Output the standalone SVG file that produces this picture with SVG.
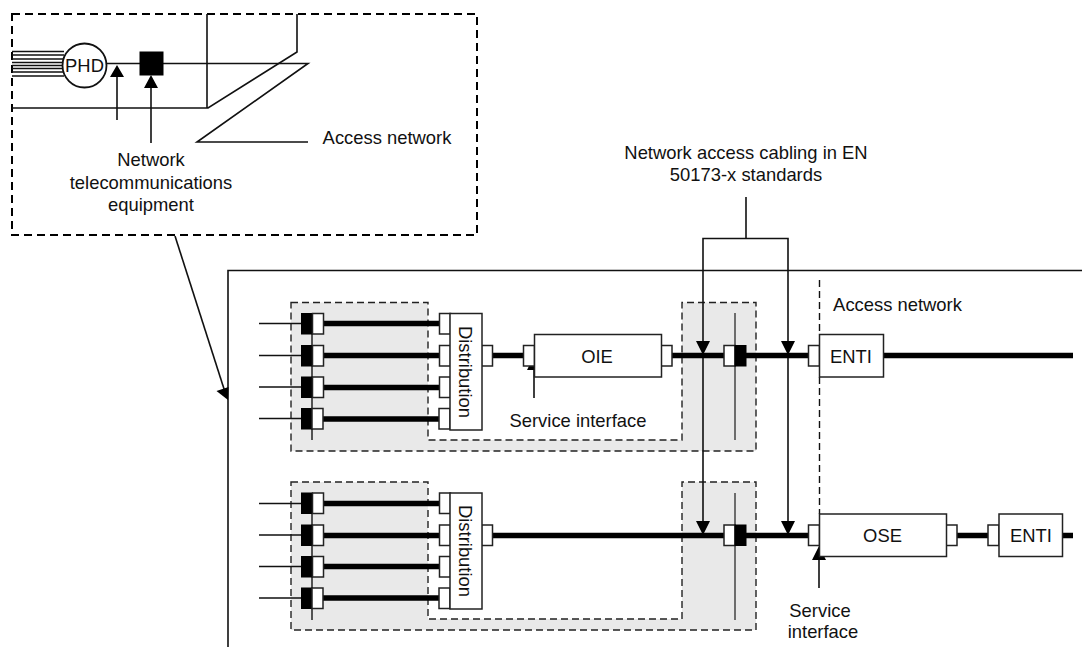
<svg xmlns="http://www.w3.org/2000/svg" width="1082" height="647" viewBox="0 0 1082 647">
<style>
text{font-family:"Liberation Sans",Arial,sans-serif;font-size:18.4px;fill:#111;text-anchor:middle}
.l{fill:none;stroke:#111;stroke-width:1.6}
.th{fill:none;stroke:#000;stroke-width:5.5}
.b{fill:#fff;stroke:#222;stroke-width:1.5}
.k{fill:#000;stroke:#000;stroke-width:1}
.z{fill:#e9e9e9;stroke:#222;stroke-width:1.4;stroke-dasharray:7 4}
.d{fill:none;stroke:#111;stroke-width:1.4;stroke-dasharray:7 4}
.a{fill:#000}
</style>
<rect width="1082" height="647" fill="#fff"/>
<g id="detail-box">
<rect x="12" y="14" width="465" height="221" fill="none" stroke="#000" stroke-width="2" stroke-dasharray="8 5"/>
<path class="l" d="M207 14V108M12 108H208L297 52V14"/>
<path d="M12 51.500H64M12 55H64M12 59H64M12 62.500H64M12 65.500H64M12 68.500H64M12 72H64M12 76H64" fill="none" stroke="#111" stroke-width="1.600"/>
<path class="l" d="M107 63.500H308L197 142H308" stroke-width="2"/>
<circle id="phd" cx="84.500" cy="65.500" r="22" fill="#fff" stroke="#111" stroke-width="1.800"/>
<text x="84.500" y="72">PHD</text>
<rect id="net-eq" x="139.500" y="51.500" width="24" height="24" fill="#000"/>
<path class="l" d="M117 120V75M151 143V85"/>
<path class="a" d="M117 65l7 12h-14zM151 75l7 13h-14z"/>
<text x="151" y="166">Network</text>
<text x="151" y="189">telecommunications</text>
<text x="151" y="211">equipment</text>
<text x="387" y="144">Access network</text>
</g>
<g id="connectors">
<path class="z" d="M291 302.500H428V440H682V302.500H756V451H291Z"/>
<path class="z" d="M291 482H428V619H682V482H756V630H291Z"/>
<path class="l" d="M228 647V270.500H1082"/>
<path class="l" d="M175 236L225 392"/>
<path class="a" d="M228 400l-11.500 -9 12 -4z"/>
<path class="l" d="M622 0" stroke="none"/>
<path class="d" d="M819.500 280V334M819.500 377V514"/>
<path class="l" d="M746 197V238.500M703 530V238.500H788V530"/>
<path class="a" d="M703 355l-7 -14h14zM788 355l-7 -14h14zM703 535l-7 -14h14zM788 535l-7 -14h14z"/>
<path d="M312 313V440M312 493V620" fill="none" stroke="#222" stroke-width="1.500"/>
<path d="M735 313V440M735 493V620" fill="none" stroke="#444" stroke-width="1.500"/>
<path d="M259 323.500H301M259 355.500H301M259 387H301M259 418.500H301M259 503.500H301M259 535H301M259 566.500H301M259 598H301" fill="none" stroke="#111" stroke-width="1.400"/>
<path class="th" d="M323 323.500H439M323 355.500H439M323 387.500H439M323 419H439M492 355.500H523M672 355.500H724M746 355.500H808M883 355.500H1073"/>
<path class="th" d="M323 503.500H439M323 535.500H439M323 566.500H439M323 598H439M492 535.500H724M746 535.500H808M957 535.500H988M1062 535.500H1073"/>
<path class="l" d="M534 398V365M819 588V555"/>
<path class="a" d="M534 356l7 14h-14zM819 546l7 14h-14z"/>
</g>
<g id="ports">
<g id="ports-top">
<rect class="k" x="301.500" y="313.500" width="11" height="20.500"/><rect class="b" x="312.500" y="313.500" width="11" height="20.500"/>
<rect class="k" x="301.500" y="345.500" width="11" height="20.500"/><rect class="b" x="312.500" y="345.500" width="11" height="20.500"/>
<rect class="k" x="301.500" y="377" width="11" height="20.500"/><rect class="b" x="312.500" y="377" width="11" height="20.500"/>
<rect class="k" x="301.500" y="408.500" width="11" height="20.500"/><rect class="b" x="312" y="408.500" width="11" height="20.500"/>
<rect class="b" x="439.500" y="313.500" width="11" height="20.500"/>
<rect class="b" x="439.500" y="345.500" width="11" height="20.500"/>
<rect class="b" x="439.500" y="377" width="11" height="20.500"/>
<rect class="b" x="439" y="408.500" width="11" height="20.500"/>
<rect class="b" x="481.500" y="345.500" width="11" height="20.500"/>
<rect class="b" x="523.500" y="345.500" width="11" height="20.500"/>
<rect class="b" x="661" y="345.500" width="11" height="20.500"/>
<rect class="b" x="724" y="345.500" width="11" height="20.500"/>
<rect class="k" x="735" y="345.500" width="11" height="20.500"/>
<rect class="b" x="808.500" y="345.500" width="11" height="20.500"/>
</g>
<g id="ports-bottom">
<rect class="k" x="301.500" y="493" width="11" height="20.500"/><rect class="b" x="312.500" y="493" width="11" height="20.500"/>
<rect class="k" x="301.500" y="525" width="11" height="20.500"/><rect class="b" x="312.500" y="525" width="11" height="20.500"/>
<rect class="k" x="301.500" y="556.500" width="11" height="20.500"/><rect class="b" x="312.500" y="556.500" width="11" height="20.500"/>
<rect class="k" x="301.500" y="588" width="11" height="20.500"/><rect class="b" x="312" y="588" width="11" height="20.500"/>
<rect class="b" x="439.500" y="493" width="11" height="20.500"/>
<rect class="b" x="439.500" y="525" width="11" height="20.500"/>
<rect class="b" x="439.500" y="556.500" width="11" height="20.500"/>
<rect class="b" x="439" y="588" width="11" height="20.500"/>
<rect class="b" x="481.500" y="525" width="11" height="20.500"/>
<rect class="b" x="724" y="525" width="11" height="20.500"/>
<rect class="k" x="735" y="525" width="11" height="20.500"/>
<rect class="b" x="808.500" y="525" width="11" height="20.500"/>
<rect class="b" x="946" y="525" width="11" height="20.500"/>
<rect class="b" x="988" y="525" width="11" height="20.500"/>
</g>
</g>
<g id="dist-top"><rect class="b" x="450" y="313.500" width="32" height="116.500"/><text transform="translate(459 372) rotate(90)">Distribution</text></g>
<g id="dist-bottom"><rect class="b" x="450" y="493" width="32" height="116"/><text transform="translate(459 551) rotate(90)">Distribution</text></g>
<g id="oie"><rect class="b" x="534.500" y="334.500" width="127" height="42.500"/><text x="597" y="363">OIE</text></g>
<g id="enti-top"><rect class="b" x="819.500" y="334.500" width="64" height="42.500"/><text x="851" y="363">ENTI</text></g>
<g id="ose"><rect class="b" x="819.500" y="514" width="127" height="42.500"/><text x="882.500" y="542">OSE</text></g>
<g id="enti-bottom"><rect class="b" x="999" y="514" width="63.500" height="42.500"/><text x="1031" y="542">ENTI</text></g>
<g id="labels">
<text x="578" y="427">Service interface</text>
<text x="897.500" y="311">Access network</text>
<text x="746" y="159">Network access cabling in EN</text>
<text x="746" y="181">50173-x standards</text>
<text x="820" y="617">Service</text>
<text x="823" y="638">interface</text>
</g>
</svg>
